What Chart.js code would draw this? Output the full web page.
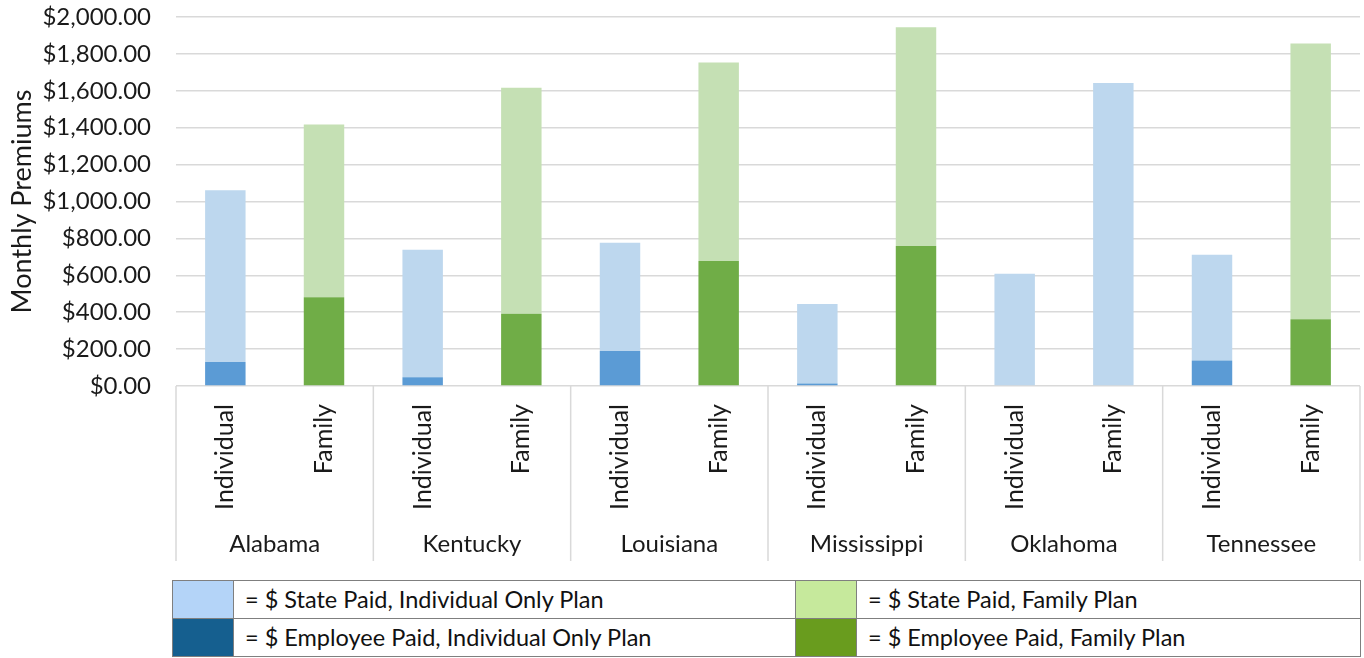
<!DOCTYPE html>
<html>
<head>
<meta charset="utf-8">
<script src="https://cdn.jsdelivr.net/npm/chart.js@4.4.1/dist/chart.umd.min.js"></script>
<style>
  html, body { margin: 0; padding: 0; background: #fff; }
  body { width: 1364px; height: 658px; position: relative; overflow: hidden; font-family: Lato, "Open Sans", sans-serif; }
  #c { position: absolute; left: 0; top: 0; }
  #legend { position: absolute; left: 172px; top: 580px; border-collapse: collapse; width: 1189px; font-family: Lato, sans-serif; font-size: 23.5px; color: #111; }
  #legend td { border: 1px solid #7f7f7f; height: 37px; padding: 0; line-height: 37px; white-space: nowrap; }
  #legend td.sw { width: 60px; }
  #legend td.tx { padding-left: 11px; }
</style>
</head>
<body>
<canvas id="c" width="1364" height="570"></canvas>
<table id="legend"></table>
<script>
// ---- data ----
const states = ['Alabama', 'Kentucky', 'Louisiana', 'Mississippi', 'Oklahoma', 'Tennessee'];
const planTypes = ['Individual', 'Family'];
// per bar, in order: state x plan
const employeePaid = [130, 481, 47, 392, 190, 678, 13, 759, 0, 0, 138, 362];
const statePaid    = [931, 936, 692, 1225, 587, 1076, 431, 1185, 609, 1642, 574, 1494];
const yTickValues = [0, 200, 400, 600, 800, 1000, 1200, 1400, 1600, 1800, 2000];
const axisTitle = 'Monthly Premiums';
const legendItems = [
  '= $ State Paid, Individual Only Plan',
  '= $ State Paid, Family Plan',
  '= $ Employee Paid, Individual Only Plan',
  '= $ Employee Paid, Family Plan'
];

// ---- styles ----
const LB = '#bdd7ee', DB = '#5b9bd5', LG = '#c5e0b4', DG = '#70ad47';
const stateColors    = [LB, LG, LB, LG, LB, LG, LB, LG, LB, LB, LB, LG];
const employeeColors = [DB, DG, DB, DG, DB, DG, DB, DG, DB, DB, DB, DG];
const legendColors = ['#b4d4f8', '#c6e99c', '#155f8f', '#699c1e'];
const FONT = 'Lato, "Open Sans", sans-serif';
const TEXT = '#1a1a1a';

const labels = [];
states.forEach(() => planTypes.forEach(p => labels.push(p)));

const groupPlugin = {
  id: 'groups',
  afterDraw(chart) {
    const ctx = chart.ctx, x = chart.scales.x, ca = chart.chartArea;
    const n = planTypes.length;
    const top = ca.bottom, bottom = 561;
    ctx.save();
    ctx.strokeStyle = '#d9d9d9';
    ctx.lineWidth = 1.5;
    const edges = [ca.left];
    for (let g = 1; g < states.length; g++) {
      edges.push((x.getPixelForValue(g * n - 1) + x.getPixelForValue(g * n)) / 2);
    }
    edges.push(ca.right);
    edges.forEach(e => {
      ctx.beginPath(); ctx.moveTo(e, top); ctx.lineTo(e, bottom); ctx.stroke();
    });
    ctx.fillStyle = TEXT;
    ctx.font = '24px ' + FONT;
    ctx.textAlign = 'center';
    ctx.textBaseline = 'alphabetic';
    states.forEach((s, g) => {
      ctx.fillText(s, (edges[g] + edges[g + 1]) / 2, 552);
    });
    ctx.restore();
  }
};

new Chart(document.getElementById('c'), {
  type: 'bar',
  data: {
    labels: labels,
    datasets: [
      { label: 'Employee Paid', data: employeePaid, backgroundColor: employeeColors, borderWidth: 0 },
      { label: 'State Paid', data: statePaid, backgroundColor: stateColors, borderWidth: 0 }
    ]
  },
  options: {
    responsive: false,
    animation: false,
    events: [],
    barPercentage: 0.41,
    categoryPercentage: 1,
    layout: { padding: { left: 0, right: 4, top: 17, bottom: 9 } },
    plugins: { legend: { display: false }, tooltip: { enabled: false } },
    scales: {
      x: {
        stacked: true,
        grid: { display: false },
        border: { display: false },
        ticks: {
          autoSkip: false, maxRotation: 90, minRotation: 90, padding: 10,
          color: TEXT, font: { family: FONT, size: 25 }
        },
        afterFit(s) { s.height = 175; s.paddingLeft = 0; s.paddingRight = 0; }
      },
      y: {
        stacked: true,
        min: 0, max: 2000,
        afterBuildTicks(s) { s.ticks = yTickValues.map(v => ({ value: v })); },
        grid: { color: '#d9d9d9', lineWidth: 1.5, drawTicks: false },
        border: { display: false },
        ticks: {
          padding: 25, color: TEXT, font: { family: FONT, size: 24 },
          callback: v => '$' + Number(v).toLocaleString('en-US', { minimumFractionDigits: 2, maximumFractionDigits: 2 })
        },
        title: { display: true, text: axisTitle, color: TEXT, font: { family: FONT, size: 27 }, padding: { top: 6, bottom: 0 } },
        afterFit(s) { s.width = 176; s.paddingTop = 0; s.paddingBottom = 0; }
      }
    }
  },
  plugins: [groupPlugin]
});

// legend table
const tbl = document.getElementById('legend');
for (let r = 0; r < 2; r++) {
  const tr = document.createElement('tr');
  for (let c = 0; c < 2; c++) {
    const i = r * 2 + c;
    const sw = document.createElement('td');
    sw.className = 'sw';
    sw.style.background = legendColors[i];
    const tx = document.createElement('td');
    tx.className = 'tx';
    tx.textContent = legendItems[i];
    tx.style.width = c === 0 ? '550px' : 'auto';
    tr.appendChild(sw); tr.appendChild(tx);
  }
  tbl.appendChild(tr);
}
</script>
</body>
</html>
